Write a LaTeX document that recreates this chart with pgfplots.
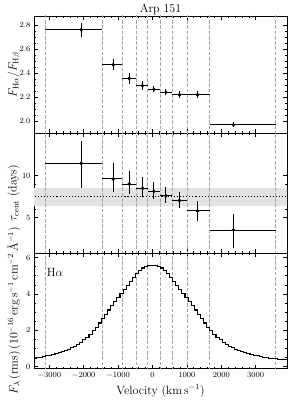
\documentclass[border=0pt]{standalone}
\usepackage{pgfplots}
\pgfplotsset{compat=1.18}
\usepackage{pgfplotstable}

\pgfplotstableread{
x y xp xm ey
-2072 2.760 610 1056 0.060
-1142 2.470 261 320 0.045
-677 2.355 203 204 0.045
-290 2.295 156 184 0.035
40 2.265 184 174 0.025
390 2.240 191 166 0.025
785 2.220 215 204 0.030
1308 2.220 349 308 0.030
2355 1.970 1221 698 0.020
}\ratio

\pgfplotstableread{
x y xp xm yp ym
-2072 11.45 610 1056 2.70 2.95
-1142 9.60 261 320 1.90 1.50
-677 9.00 203 204 1.50 1.20
-290 8.48 156 184 1.36 0.98
40 8.12 184 174 1.12 0.92
390 7.60 191 166 1.04 0.88
785 7.04 215 204 1.04 0.92
1308 5.80 349 308 1.12 1.20
2355 3.52 1221 698 1.92 2.08
}\lag

\pgfplotstableread{
v f
-3510 0.448
-3420 0.466
-3330 0.490
-3240 0.524
-3150 0.560
-3060 0.596
-2970 0.635
-2880 0.680
-2790 0.725
-2700 0.770
-2610 0.824
-2520 0.886
-2430 0.956
-2340 1.034
-2250 1.125
-2160 1.232
-2070 1.352
-1980 1.480
-1890 1.618
-1800 1.780
-1710 1.968
-1620 2.174
-1530 2.402
-1440 2.642
-1350 2.880
-1260 3.118
-1170 3.358
-1080 3.592
-990 3.824
-900 4.040
-810 4.256
-720 4.472
-630 4.688
-540 4.904
-450 5.110
-360 5.288
-270 5.423
-180 5.509
-90 5.547
0 5.560
90 5.547
180 5.509
270 5.423
360 5.288
450 5.110
540 4.904
630 4.688
720 4.472
810 4.256
900 4.040
990 3.824
1080 3.592
1170 3.358
1260 3.118
1350 2.880
1440 2.642
1530 2.402
1620 2.174
1710 1.968
1800 1.780
1890 1.618
1980 1.480
2070 1.352
2160 1.232
2250 1.125
2340 1.034
2430 0.956
2520 0.886
2610 0.824
2700 0.770
2790 0.725
2880 0.680
2970 0.635
3060 0.596
3150 0.560
3240 0.524
3330 0.490
3420 0.466
3510 0.448
3600 0.430
3690 0.416
3780 0.403
3870 0.390
3960 0.378
}\spec

\pgfplotsset{
  common/.style={
    scale only axis, width=253bp,
    xmin=-3445, xmax=3910,
    xtick={-3000,-2000,...,3000}, minor x tick num=4,
    tick align=inside, xtick pos=both, ytick pos=both,
    major tick length=4bp, minor tick length=2bp,
    every tick/.style={black, line width=0.6pt},
    axis line style={line width=0.8pt},
    tick label style={font=\footnotesize},
    label style={font=\large},
    /pgf/number format/1000 sep={},
    ylabel style={at={(axis description cs:-0.08,0.5)}, anchor=center},
    clip mode=individual,
  },
  vl/.style={gray!70, line width=0.8pt, dash pattern=on 3.7pt off 1.6pt, forget plot},
  pts/.style={black, only marks, mark=*, mark size=1.6pt,
    error bars/.cd, x dir=both, y dir=both, x explicit, y explicit,
    error mark=none, error bar style={line width=0.9pt, black}},
}
% #1 = low y, #2 = high y
\newcommand{\vlines}[2]{%
  \pgfplotsinvokeforeach{-3128,-1462,-881,-474,-134,224,581,1000,1657,3576}{%
    \addplot[vl] coordinates {(##1,#1) (##1,#2)};}%
}

\begin{document}
\begin{tikzpicture}
% bottom panel
\begin{axis}[common, at={(0,0)}, anchor=south west, height=115.5bp,
  ymin=-0.1, ymax=6.25, ytick={0,2,4,6}, minor y tick num=3,
  xlabel={Velocity (km\,s$^{-1}$)},
  ylabel={$F_\lambda$\,(rms)\,($10^{-16}$\,erg\,s$^{-1}$\,cm$^{-2}$\,\AA$^{-1}$)}]
\vlines{-0.5}{7}
\addplot[black, line width=1.1pt, const plot mark mid, no marks] table[x=v, y=f] {\spec};
\node[anchor=north west, inner sep=0pt, font=\large] at (axis description cs:0.05,0.87) {H$\alpha$};
\end{axis}
% middle panel
\begin{axis}[common, at={(0,115.5bp)}, anchor=south west, height=119.5bp,
  ymin=0.8, ymax=15, ytick={5,10}, minor y tick num=4, xticklabels={},
  ylabel={$\tau_{\mathrm{cent}}$ (days)}]
\addplot[fill=gray!22, draw=none, forget plot] coordinates {(-3600,6.4) (4000,6.4) (4000,8.52) (-3600,8.52) (-3600,6.4)};
\vlines{0}{16}
\addplot[black, line width=1.1pt, dotted] coordinates {(-3600,7.48) (4000,7.48)};
\addplot[pts] table[x=x, y=y, x error plus=xp, x error minus=xm, y error plus=yp, y error minus=ym] {\lag};
\end{axis}
% top panel
\begin{axis}[common, at={(0,235bp)}, anchor=south west, height=117.5bp,
  ymin=1.897, ymax=2.875, ytick={2.0,2.2,2.4,2.6,2.8}, minor y tick num=3,
  yticklabel style={/pgf/number format/.cd, fixed, fixed zerofill, precision=1},
  xticklabels={},
  ylabel={$F_{\mathrm{H}\alpha}/F_{\mathrm{H}\beta}$}]
\vlines{1.8}{3.0}
\addplot[pts] table[x=x, y=y, x error plus=xp, x error minus=xm, y error=ey] {\ratio};
\node[anchor=base, inner sep=0pt, font=\large] at ([yshift=3.8bp]axis description cs:0.5,1) {Arp 151};
\end{axis}
\pgfresetboundingbox
\useasboundingbox (-34bp,-34.5bp) rectangle (257bp,368.5bp);
\end{tikzpicture}
\end{document}
